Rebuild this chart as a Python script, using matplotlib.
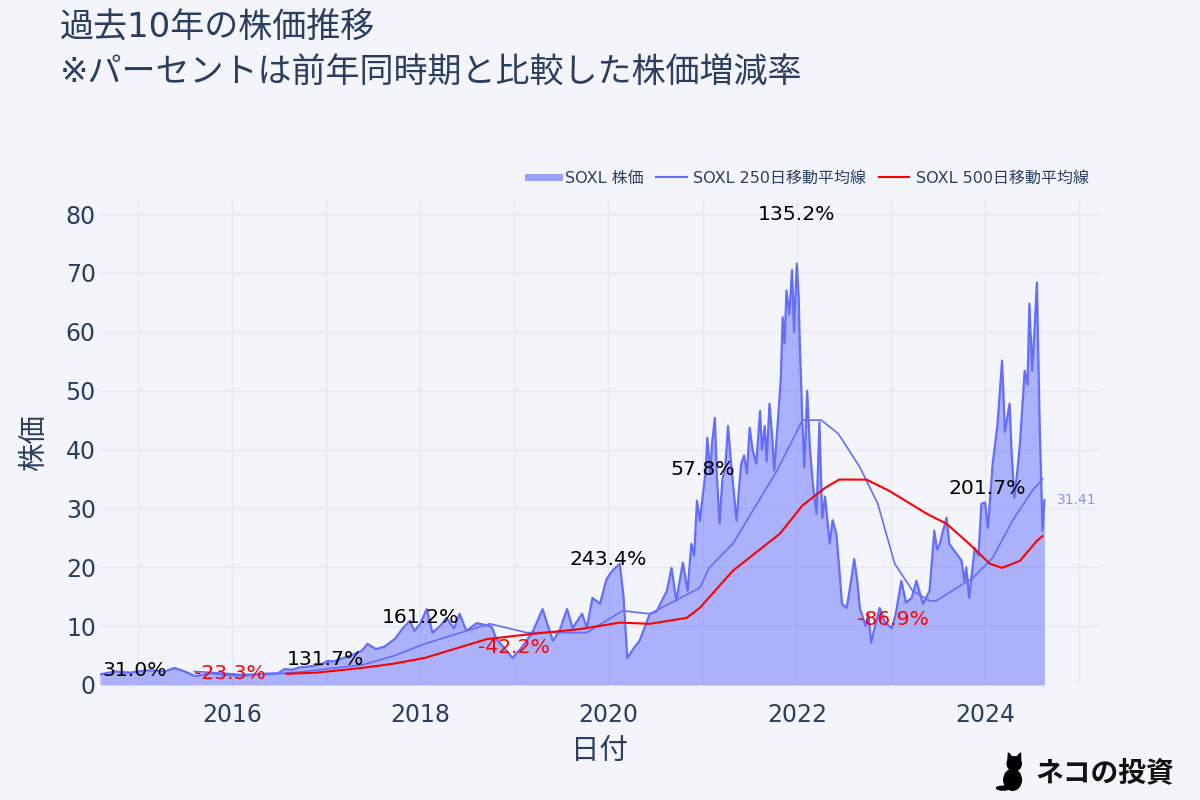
import matplotlib
matplotlib.use("Agg")
import matplotlib.pyplot as plt
from matplotlib.lines import Line2D
from matplotlib.patches import Ellipse, Circle, Polygon

# --- data (decimal years) ---
t_price = [2014.60, 2014.76, 2014.92, 2015.05, 2015.13, 2015.29, 2015.39, 2015.50,
           2015.61, 2015.77, 2015.96, 2016.14, 2016.32, 2016.49, 2016.56, 2016.64,
           2016.72, 2016.80, 2016.88, 2016.95, 2017.02, 2017.08, 2017.15, 2017.22,
           2017.31, 2017.38, 2017.44, 2017.53, 2017.62, 2017.73, 2017.82, 2017.89,
           2017.94, 2018.00, 2018.07, 2018.13, 2018.21, 2018.28, 2018.36, 2018.42,
           2018.49, 2018.60, 2018.69, 2018.76, 2018.81, 2018.92, 2018.98, 2019.06,
           2019.13, 2019.20, 2019.30, 2019.35, 2019.41, 2019.48, 2019.56, 2019.62,
           2019.72, 2019.77, 2019.83, 2019.91, 2019.98, 2020.04, 2020.12, 2020.16,
           2020.20, 2020.28, 2020.33, 2020.44, 2020.51, 2020.62, 2020.67, 2020.72,
           2020.79, 2020.84, 2020.88, 2020.91, 2020.94, 2020.97, 2021.00, 2021.03,
           2021.05, 2021.08, 2021.10, 2021.13, 2021.15, 2021.18, 2021.21, 2021.24,
           2021.27, 2021.30, 2021.33, 2021.36, 2021.39, 2021.41, 2021.44, 2021.47,
           2021.50, 2021.53, 2021.57, 2021.61, 2021.63, 2021.66, 2021.68, 2021.71,
           2021.74, 2021.76, 2021.80, 2021.83, 2021.85, 2021.87, 2021.89, 2021.92,
           2021.95, 2021.97, 2022.00, 2022.02, 2022.03, 2022.06, 2022.08, 2022.11,
           2022.14, 2022.17, 2022.21, 2022.24, 2022.27, 2022.30, 2022.35, 2022.38,
           2022.42, 2022.45, 2022.48, 2022.53, 2022.57, 2022.61, 2022.64, 2022.67,
           2022.73, 2022.76, 2022.79, 2022.83, 2022.88, 2022.94, 2023.01, 2023.05,
           2023.11, 2023.16, 2023.22, 2023.27, 2023.34, 2023.41, 2023.46, 2023.49,
           2023.52, 2023.55, 2023.59, 2023.62, 2023.65, 2023.71, 2023.75, 2023.78,
           2023.80, 2023.83, 2023.89, 2023.93, 2023.96, 2024.00, 2024.03, 2024.08,
           2024.13, 2024.18, 2024.21, 2024.23, 2024.26, 2024.28, 2024.31, 2024.34,
           2024.37, 2024.42, 2024.45, 2024.47, 2024.50, 2024.53, 2024.55, 2024.58,
           2024.61, 2024.63]
price = [1.8, 2.3, 2.1, 2.4, 2.5, 2.3, 2.9, 2.3,
         1.5, 2.0, 1.7, 1.6, 1.9, 2.0, 2.7, 2.6,
         3.0, 3.1, 3.3, 3.5, 4.1, 4.0, 4.4, 4.8,
         5.3, 5.8, 7.0, 6.1, 6.5, 7.8, 9.7, 10.9,
         9.2, 10.4, 12.9, 8.9, 10.0, 11.4, 9.6, 12.1,
         9.2, 10.5, 10.2, 9.9, 7.8, 5.8, 4.6, 6.0,
         7.5, 9.2, 12.9, 10.4, 7.5, 9.2, 12.9, 9.7,
         12.1, 9.7, 14.8, 13.8, 18.0, 19.4, 20.6, 15.0,
         4.6, 6.5, 7.5, 12.1, 12.5, 16.0, 19.9, 14.3,
         20.8, 16.0, 24.0, 22.0, 31.3, 27.9, 32.0, 36.0,
         42.0, 36.0, 41.0, 45.4, 36.0, 27.4, 35.0, 37.0,
         44.0, 38.0, 33.0, 27.9, 34.0, 37.6, 39.0, 36.0,
         43.7, 40.0, 37.6, 46.6, 40.0, 44.0, 38.0, 47.8,
         42.0, 36.4, 45.0, 52.0, 62.5, 58.0, 67.0, 63.0,
         70.5, 60.0, 71.6, 66.0, 59.0, 44.4, 37.0, 50.0,
         40.0, 34.2, 29.1, 44.6, 28.4, 32.0, 24.0, 28.0,
         25.7, 20.0, 13.8, 13.1, 17.0, 21.4, 18.0, 13.1,
         10.0, 12.0, 7.2, 10.0, 13.1, 10.5, 9.7, 12.0,
         17.7, 14.0, 14.8, 17.7, 13.8, 16.0, 26.2, 23.0,
         24.0, 26.0, 28.4, 24.0, 23.3, 22.0, 21.1, 17.7,
         20.0, 14.8, 23.3, 22.0, 30.8, 31.0, 26.7, 37.6,
         44.0, 55.1, 43.0, 44.9, 47.8, 40.0, 31.8, 36.0,
         41.0, 53.4, 51.0, 64.8, 53.4, 62.0, 68.4, 43.7,
         26.2, 31.41]

t_ma250 = [2015.60, 2015.82, 2016.08, 2016.40, 2016.72, 2017.04, 2017.38, 2017.71,
           2018.05, 2018.31, 2018.74, 2019.13, 2019.77, 2020.15, 2020.44, 2020.97,
           2021.07, 2021.32, 2021.79, 2022.06, 2022.26, 2022.44, 2022.67, 2022.86,
           2023.04, 2023.23, 2023.41, 2023.48, 2023.65, 2023.87, 2024.08, 2024.29,
           2024.50, 2024.61]
ma250 = [2.3, 2.1, 1.8, 1.8, 2.2, 2.8, 3.4, 4.9,
         7.0, 8.3, 10.4, 8.9, 8.9, 12.6, 12.1, 16.5,
         19.9, 24.0, 36.4, 45.0, 45.0, 42.7, 37.0, 30.8,
         20.6, 16.0, 14.3, 14.3, 16.0, 18.2, 21.6, 27.9,
         33.0, 35.0]

t_ma500 = [2016.58, 2016.90, 2017.38, 2017.71, 2018.05, 2018.40, 2018.71, 2019.20,
           2019.70, 2020.12, 2020.44, 2020.83, 2020.97, 2021.32, 2021.82, 2022.06,
           2022.30, 2022.45, 2022.74, 2022.98, 2023.38, 2023.59, 2023.83, 2024.05,
           2024.18, 2024.37, 2024.55, 2024.61]
ma500 = [1.9, 2.1, 2.9, 3.6, 4.6, 6.3, 7.8, 8.7,
         9.5, 10.6, 10.4, 11.4, 13.1, 19.4, 25.7, 30.5,
         33.5, 34.9, 34.9, 33.0, 29.1, 27.4, 24.0, 20.6,
         19.9, 21.1, 24.5, 25.3]

# year-over-year change labels
lab_t = [2014.97, 2015.98, 2017.00, 2018.00, 2019.00, 2020.00, 2021.00, 2022.00, 2023.02, 2024.02]
lab_y = [2.4, 2.0, 4.4, 11.4, 6.3, 21.4, 36.6, 80.0, 11.2, 33.4]
lab_txt = ["31.0%", "-23.3%", "131.7%", "161.2%", "-42.2%", "243.4%",
           "57.8%", "135.2%", "-86.9%", "201.7%"]
year_ticks = [2016, 2018, 2020, 2022, 2024]

# --- style ---
BLUE, RED, INK = "#636efa", "#ff0000", "#2a3f5f"
BG, GRID = "#f4f5fa", "#e6e9f2"
FONT = ["DejaVu Sans", "Noto Sans CJK JP"]
plt.rcParams["font.family"] = FONT

fig = plt.figure(figsize=(12, 8), dpi=100, facecolor=BG)
ax = fig.add_axes([100 / 1200, 1 - 685 / 800, 1000 / 1200, 485 / 800], facecolor=BG)

ax.fill_between(t_price, price, 0, color=BLUE, alpha=0.5, linewidth=0, zorder=2)
ax.plot(t_price, price, color=BLUE, linewidth=1.6, zorder=3)
ax.plot(t_ma250, ma250, color=BLUE, linewidth=1.2, zorder=4)
ax.plot(t_ma500, ma500, color=RED, linewidth=1.5, zorder=5)

for x, y, s in zip(lab_t, lab_y, lab_txt):
    ax.text(x, y, s, ha="center", va="center", fontsize=14.7,
            color=RED if s.startswith("-") else "black", zorder=6)
ax.text(t_price[-1] + 0.13, price[-1], f"{price[-1]:.2f}", ha="left", va="center",
        fontsize=10, color="#8a92fa")

ax.set_xlim(2014.60, 2025.22)
ax.set_ylim(0, 82.4)
ax.set_xticks(year_ticks)
ax.set_xticks([2015, 2017, 2019, 2021, 2023, 2025], minor=True)
ax.set_yticks(range(0, 90, 10))
ax.grid(which="both", color=GRID, linewidth=1, zorder=0)
ax.set_axisbelow(True)
for sp in ax.spines.values():
    sp.set_visible(False)
ax.tick_params(which="both", length=0, labelsize=17, colors=INK)
ax.tick_params(axis="y", pad=3)
ax.tick_params(axis="x", pad=13)
ax.set_xlabel("日付", fontsize=20.5, color=INK, va="top")
ax.xaxis.set_label_coords(0.5, -52 / 485)
ax.set_ylabel("株価", fontsize=20.5, color=INK)
ax.yaxis.set_label_coords(-52 / 1000, 0.5)

handles = [Line2D([], [], color="#9aa1f9", linewidth=5),
           Line2D([], [], color=BLUE, linewidth=1.5),
           Line2D([], [], color=RED, linewidth=1.5)]
ax.legend(handles, ["SOXL 株価", "SOXL 250日移動平均線", "SOXL 500日移動平均線"],
          ncol=3, loc="lower right", bbox_to_anchor=(1.003, 1.0), frameon=False,
          fontsize=11.5, labelcolor=INK, handlelength=1.9, columnspacing=0.8,
          handletextpad=0.4)

fig.text(60 / 1200, 1 - 28 / 800, "過去10年の株価推移", fontsize=24.5, color=INK,
         va="center", ha="left")
fig.text(60 / 1200, 1 - 73 / 800, "※パーセントは前年同時期と比較した株価増減率",
         fontsize=24.5, color=INK, va="center", ha="left")

# logo: small black cat + name
lax = fig.add_axes([995 / 1200, 1 - 792 / 800, 32 / 1200, 42 / 800])
lax.set_xlim(0, 1)
lax.set_ylim(0, 1.31)
lax.axis("off")
lax.add_patch(Ellipse((0.55, 0.38), 0.55, 0.65, color="black"))
lax.add_patch(Circle((0.6, 0.88), 0.22, color="black"))
lax.add_patch(Polygon([[0.4, 0.92], [0.42, 1.22], [0.56, 1.05]], color="black"))
lax.add_patch(Polygon([[0.64, 1.05], [0.8, 1.22], [0.8, 0.92]], color="black"))
lax.add_patch(Ellipse((0.25, 0.12), 0.4, 0.12, color="black"))
fig.text(1035 / 1200, 1 - 773 / 800, "ネコの投資", fontsize=20, fontweight="bold",
         color="#111111", va="center", ha="left", family=["Noto Sans CJK JP"])

fig.savefig("out.png", dpi=100, facecolor=BG)
